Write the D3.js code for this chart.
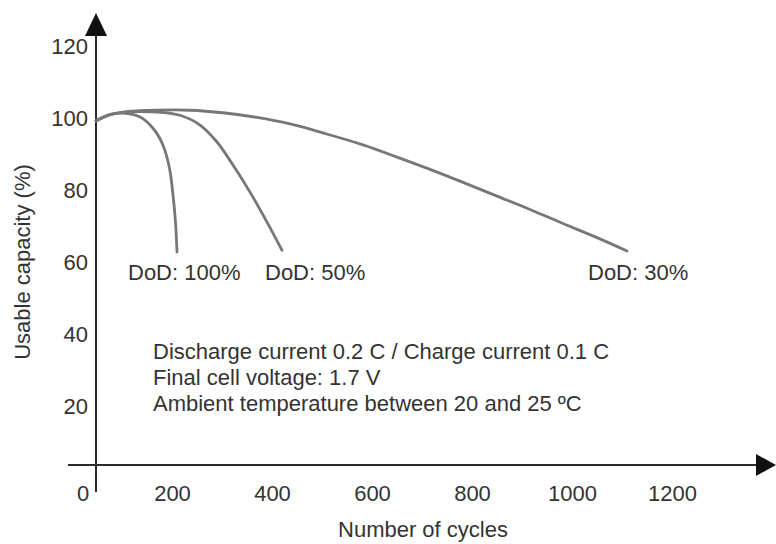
<!DOCTYPE html>
<html>
<head>
<meta charset="utf-8">
<script src="https://cdn.jsdelivr.net/npm/d3@7"></script>
<style>
  html, body { margin: 0; padding: 0; background: #fff; }
  svg text { font-family: "Liberation Sans", Arial, Helvetica, sans-serif; fill: #333; }
</style>
</head>
<body>
<svg id="chart" width="776" height="544"></svg>
<script>
// ---- data ----
const xTicks = [200, 400, 600, 800, 1000, 1200];
const yTicks = [20, 40, 60, 80, 100, 120];

const dod30 = [
  [48, 99.3], [76, 101.0], [102, 101.7], [170, 102.2], [236, 102.2], [302, 101.5],
  [370, 100.2], [436, 98.4], [502, 95.9], [582, 92.6], [650, 89.2], [716, 85.8],
  [782, 82.2], [850, 78.4], [916, 74.7], [982, 70.8], [1050, 66.9], [1110, 63.2]
];
const dod100 = [
  [48, 99.3], [76, 101.0], [102, 101.4], [136, 100.3], [162, 97.2], [182, 92.5],
  [195, 86.1], [202, 78.7], [207, 71.2], [210, 62.9]
];
const dod50 = [
  [48, 99.3], [76, 101.0], [102, 101.6], [170, 101.7], [216, 100.8], [256, 98.1],
  [290, 93.4], [322, 87.0], [356, 79.5], [390, 71.2], [420, 63.4]
];
const seriesLabels = ["DoD: 100%", "DoD: 50%", "DoD: 30%"];
const notes = [
  "Discharge current 0.2 C / Charge current 0.1 C",
  "Final cell voltage: 1.7 V",
  "Ambient temperature between 20 and 25 \u00BAC"
];

// ---- layout ----
const svg = d3.select("#chart");
const x = d3.scaleLinear().domain([0, 1400]).range([72, 772]);
const y = d3.scaleLinear().domain([0, 120]).range([479, 46]);
const axisColor = "#2a2a2a";
const yAxisX = 96, xAxisY = 465;
const fs = 22;

// axes lines
svg.append("line").attr("x1", 68).attr("x2", 762).attr("y1", xAxisY).attr("y2", xAxisY)
  .attr("stroke", axisColor).attr("stroke-width", 2);
svg.append("line").attr("x1", yAxisX).attr("x2", yAxisX).attr("y1", 492).attr("y2", 30)
  .attr("stroke", axisColor).attr("stroke-width", 2);
// arrowheads
svg.append("path").attr("d", `M${yAxisX},13 L${yAxisX - 11},36 L${yAxisX + 11},36 Z`).attr("fill", "#111");
svg.append("path").attr("d", `M776,${xAxisY} L756,${xAxisY - 11} L756,${xAxisY + 11} Z`).attr("fill", "#111");

// x tick labels via axis
const xAxis = d3.axisBottom(x).tickValues(xTicks).tickSize(0).tickPadding(0).tickFormat(d3.format("d"));
const gx = svg.append("g").attr("transform", `translate(0,${xAxisY + 28})`).call(xAxis);
gx.select(".domain").remove();
gx.selectAll("text").attr("font-size", fs).attr("dy", "0.35em").attr("fill", "#333");
svg.append("text").attr("x", 83).attr("y", 493).attr("dy", "0.35em").attr("text-anchor", "middle")
  .attr("font-size", fs).text("0");

// y tick labels via axis
const yAxis = d3.axisLeft(y).tickValues(yTicks).tickSize(0).tickPadding(0).tickFormat(d3.format("d"));
const gy = svg.append("g").attr("transform", `translate(${yAxisX - 8},0)`).call(yAxis);
gy.select(".domain").remove();
gy.selectAll("text").attr("font-size", fs).attr("fill", "#333");

// axis titles
svg.append("text").attr("x", 423).attr("y", 537).attr("text-anchor", "middle")
  .attr("font-size", fs).text("Number of cycles");
svg.append("text").attr("transform", "translate(30,262) rotate(-90)").attr("text-anchor", "middle")
  .attr("font-size", fs).text("Usable capacity (%)");

// curves
const line = d3.line().x(d => x(d[0])).y(d => y(d[1])).curve(d3.curveCatmullRom.alpha(0.5));
[dod30, dod50, dod100].forEach(s => {
  svg.append("path").datum(s).attr("d", line).attr("fill", "none")
    .attr("stroke", "#777").attr("stroke-width", 2.8).attr("stroke-linecap", "round");
});

// series labels
const labelX = [128, 265, 588];
seriesLabels.forEach((t, i) => {
  svg.append("text").attr("x", labelX[i]).attr("y", 280).attr("font-size", fs).text(t);
});

// notes
notes.forEach((t, i) => {
  svg.append("text").attr("x", 153).attr("y", 359 + i * 26).attr("font-size", fs).text(t);
});
</script>
</body>
</html>
